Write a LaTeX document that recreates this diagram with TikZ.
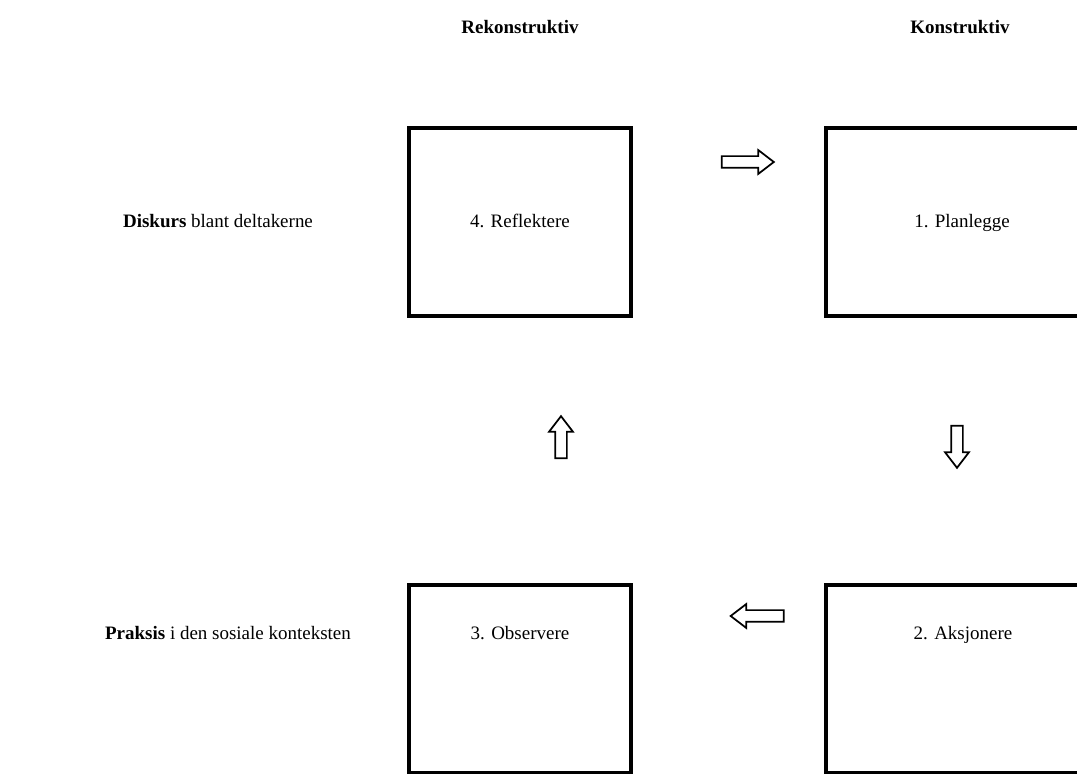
\documentclass[tikz,border=0pt,12pt]{standalone}
\usepackage{fontspec}
\setmainfont{Liberation Serif}
\usetikzlibrary{shapes.arrows}
\newcommand{\px}{0.632pt}

\begin{document}
\begin{tikzpicture}[x=\px, y=-\px,
	box/.style={draw, line width=2.1pt, rectangle, minimum width=#1*\px, minimum height=188*\px},
	box/.default=222,
	blockarrow/.style={single arrow, draw, line width=1.1pt, inner xsep=0pt, inner ysep=5*\px, single arrow head extend=6*\px, single arrow tip angle=75, minimum height=#1*\px},
	vertarrow/.style={blockarrow=#1, inner xsep=5*\px, inner ysep=0pt},
	lbl/.style={anchor=base, inner sep=0pt}]
		\clip (0,0) rectangle (1077,774);
			% column heads
			\node[lbl] (hrek) at (520,34) {\textbf{Rekonstruktiv}};
			\node[lbl] (hkon) at (960,34) {\textbf{Konstruktiv}};
			% row heads
			\node[lbl] (hdis) at (218,228) {\textbf{Diskurs} blant deltakerne};
			\node[lbl] (hpra) at (228,640) {\textbf{Praksis} i den sosiale konteksten};
				% the four boxes
				\node[box] (refl) at (520,222) {};
				\node[box=274] (plan) at (963,222) {};
				\node[box] (obs) at (520,679) {};
				\node[box=274] (aks) at (963,679) {};
				\node[lbl] (trefl) at (520,228) {4. Reflektere};
				\node[lbl] (tplan) at (962,228) {1. Planlegge};
				\node[lbl] (tobs) at (520,640) {3. Observere};
				\node[lbl] (taks) at (963,640) {2. Aksjonere};
					% block arrows
					\node[blockarrow=52] (a1) at (744,162) {};
					\node[vertarrow=42, shape border rotate=270] (a2) at (957,443) {};
					\node[blockarrow=53, shape border rotate=180] (a3) at (761,616) {};
					\node[vertarrow=42, shape border rotate=90] (a4) at (561,441) {};
\end{tikzpicture}
\end{document}
